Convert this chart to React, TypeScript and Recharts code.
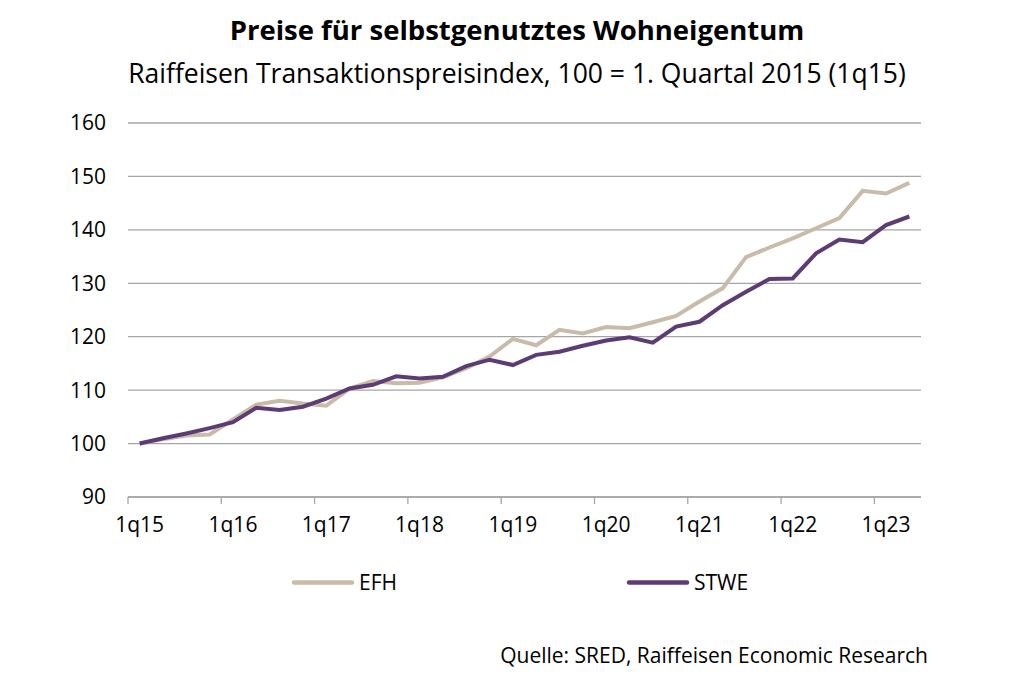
import { LineChart, Line, XAxis, YAxis, CartesianGrid } from "recharts"

const quarters = [
  "1q15", "2q15", "3q15", "4q15",
  "1q16", "2q16", "3q16", "4q16",
  "1q17", "2q17", "3q17", "4q17",
  "1q18", "2q18", "3q18", "4q18",
  "1q19", "2q19", "3q19", "4q19",
  "1q20", "2q20", "3q20", "4q20",
  "1q21", "2q21", "3q21", "4q21",
  "1q22", "2q22", "3q22", "4q22",
  "1q23", "2q23",
]

const efh = [
  100, 100.8, 101.5, 101.7, 104.5, 107.3, 108.0, 107.5, 107.1, 110.3, 111.7, 111.3,
  111.4, 112.4, 114.1, 116.3, 119.6, 118.4, 121.3, 120.6, 121.8, 121.6, 122.7, 123.9,
  126.6, 129.1, 134.9, 136.7, 138.4, 140.3, 142.2, 147.3, 146.8, 148.8,
]

const stwe = [
  100, 101.0, 101.9, 102.9, 104.0, 106.7, 106.3, 106.9, 108.4, 110.3, 111.0, 112.6,
  112.2, 112.5, 114.5, 115.7, 114.7, 116.6, 117.2, 118.3, 119.3, 119.9, 118.9, 121.9,
  122.8, 125.9, 128.4, 130.8, 130.9, 135.6, 138.2, 137.7, 140.9, 142.5,
]

const yTicks = [90, 100, 110, 120, 130, 140, 150, 160]

const legendItems = [
  { label: "EFH", key: "efh" },
  { label: "STWE", key: "stwe" },
]

const EFH_COLOR = "#c9bba9"
const STWE_COLOR = "#5d3b74"
const GRID = "#a6a6a6"
const FONT = "'Open Sans', sans-serif"

const data = quarters.map((q, i) => ({ q, efh: efh[i], stwe: stwe[i] }))

const W = 1032
const H = 678
const plotLeft = 128
const plotRight = 921
const plotTop = 123
const plotBottom = 497
const xAxisHeight = 60
const yAxisWidth = 60
const bandWidth = (plotRight - plotLeft) / quarters.length

function QuarterTick(props: any) {
  const { x, y, index, payload } = props
  // labels only on first quarters, tick mark at the year boundary
  if (index % 4 !== 0) return null
  const edge = x - bandWidth / 2
  return (
    <g>
      <line x1={edge} y1={y} x2={edge} y2={y + 7} stroke={GRID} strokeWidth={1.3} />
      <text x={x} y={y + 35} textAnchor="middle" fontSize={21} fill="#000" fontFamily={FONT}>
        {payload.value}
      </text>
    </g>
  )
}

// legend placement
const legendPos = [
  { x: 293, color: EFH_COLOR },
  { x: 628, color: STWE_COLOR },
]

export default function App() {
  return (
    <div style={{ position: "absolute", left: 0, top: 0, width: W, height: H, background: "#fff" }}>
      <LineChart
        width={W}
        height={H}
        data={data}
        margin={{
          top: plotTop,
          right: W - plotRight,
          bottom: H - plotBottom - xAxisHeight,
          left: plotLeft - yAxisWidth,
        }}
      >
        <CartesianGrid vertical={false} stroke={GRID} strokeWidth={1.3} />
        <XAxis
          dataKey="q"
          scale="band"
          interval={0}
          tickLine={false}
          tickSize={0}
          tickMargin={0}
          axisLine={{ stroke: GRID, strokeWidth: 1.3 }}
          tick={<QuarterTick />}
          height={xAxisHeight}
        />
        <YAxis
          domain={[90, 160]}
          ticks={yTicks}
          width={yAxisWidth}
          axisLine={false}
          tickLine={false}
          tickSize={0}
          tickMargin={22}
          tick={{ fontSize: 21, fill: "#000", fontFamily: FONT }}
        />
        <Line dataKey="efh" stroke={EFH_COLOR} strokeWidth={4} dot={false} isAnimationActive={false} />
        <Line dataKey="stwe" stroke={STWE_COLOR} strokeWidth={4} dot={false} isAnimationActive={false} />
      </LineChart>
      <svg
        width={W}
        height={H}
        style={{ position: "absolute", left: 0, top: 0, pointerEvents: "none" }}
        fontFamily={FONT}
      >
        <text x={517} y={39.5} textAnchor="middle" fontSize={27.5} fontWeight={700} fill="#000">
          Preise für selbstgenutztes Wohneigentum
        </text>
        <text x={517} y={82.5} textAnchor="middle" fontSize={26.5} fill="#000">
          Raiffeisen Transaktionspreisindex, 100 = 1. Quartal 2015 (1q15)
        </text>
        {legendItems.map((it, i) => (
          <g key={it.key}>
            <line
              x1={legendPos[i].x + 1}
              y1={582.5}
              x2={legendPos[i].x + 59}
              y2={582.5}
              stroke={legendPos[i].color}
              strokeWidth={4.5}
              strokeLinecap="round"
            />
            <text x={legendPos[i].x + 66} y={590} fontSize={21} fill="#000">
              {it.label}
            </text>
          </g>
        ))}
        <text x={928} y={663} textAnchor="end" fontSize={21} fill="#000">
          Quelle: SRED, Raiffeisen Economic Research
        </text>
      </svg>
    </div>
  )
}
